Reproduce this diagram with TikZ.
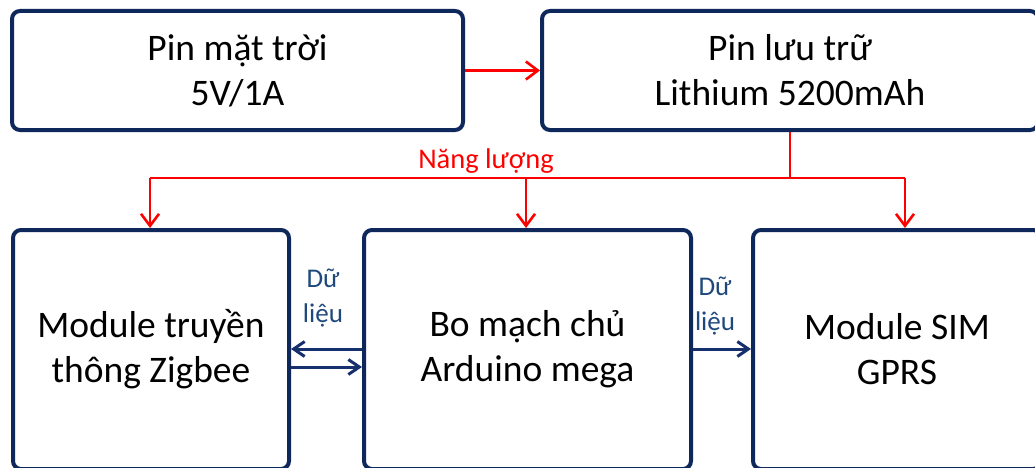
\documentclass[tikz,border=0pt]{standalone}
\usepackage{fontspec}
\setmainfont{Carlito}
\usetikzlibrary{arrows.meta,calc}
\definecolor{boxblue}{RGB}{14,40,92}
\definecolor{datablue}{RGB}{22,48,110}
\definecolor{lblblue}{RGB}{31,73,125}
\begin{document}
\begin{tikzpicture}[x=1pt,y=-1pt,
  blk/.style={draw=boxblue, line width=4pt, rounded corners=8pt, align=center,
    font=\fontsize{37.5}{45}\selectfont, inner sep=0pt},
  pwr/.style={draw=red, line width=2.6pt, -{Straight Barb[length=12pt,width=18pt]}},
  pwrline/.style={draw=red, line width=2.6pt},
  data/.style={draw=datablue, line width=3pt, -{Straight Barb[length=11pt,width=15pt]}},
  lbl/.style={text=lblblue, align=center, font=\fontsize{27}{35}\selectfont, inner sep=0pt},
  nl/.style={text=red, font=\fontsize{28.5}{32}\selectfont, inner sep=0pt}]
\useasboundingbox (0,0) rectangle (1035,468);
\fill[white] (0,0) rectangle (1035,468);
\clip (0,0) rectangle (1035,468);

% boxes
\node[blk, minimum width=451pt, minimum height=119pt] (solar) at (237.5,70.5) {Pin mặt trời\\5V/1A};
\node[blk, minimum width=496pt, minimum height=119pt] (batt) at (790,70.5) {Pin lưu trữ\\Lithium 5200mAh};
\node[blk, minimum width=276pt, minimum height=239pt] (zig) at (151,349.5) {Module truyền\\thông Zigbee};
\node[blk, minimum width=327pt, minimum height=239pt] (mcu) at (527.5,349.5) {Bo mạch chủ\\Arduino mega};
\node[blk, minimum width=288pt, minimum height=239pt] (sim) at (897,349.5) {Module SIM\\GPRS};

% power distribution
\coordinate (bus) at (790,178);
\coordinate (jL) at (150,178);
\coordinate (jM) at (526,178);
\coordinate (jR) at (905,178);
\draw[pwr] (solar.east) -- (batt.west);
\draw[pwrline] (batt.south) -- (bus);
\draw[pwrline] (jL) -- (jR);
\draw[pwr] (jL) -- (jL |- zig.north);
\draw[pwr] (jM) -- (jM |- mcu.north);
\draw[pwr] (jR) -- (jR |- sim.north);
\node[nl, anchor=base] (nang) at (486,168) {Năng lượng};

% data links
\draw[data] (mcu.west |- 0,349) -- (zig.east |- 0,349);
\draw[data] (zig.east |- 0,367) -- (mcu.west |- 0,367);
\draw[data] (mcu.east |- 0,349) -- (sim.west |- 0,349);
\node[lbl] (d1) at (323,298) {Dữ\\liệu};
\node[lbl] (d2) at (715,306) {Dữ\\liệu};
\end{tikzpicture}
\end{document}
